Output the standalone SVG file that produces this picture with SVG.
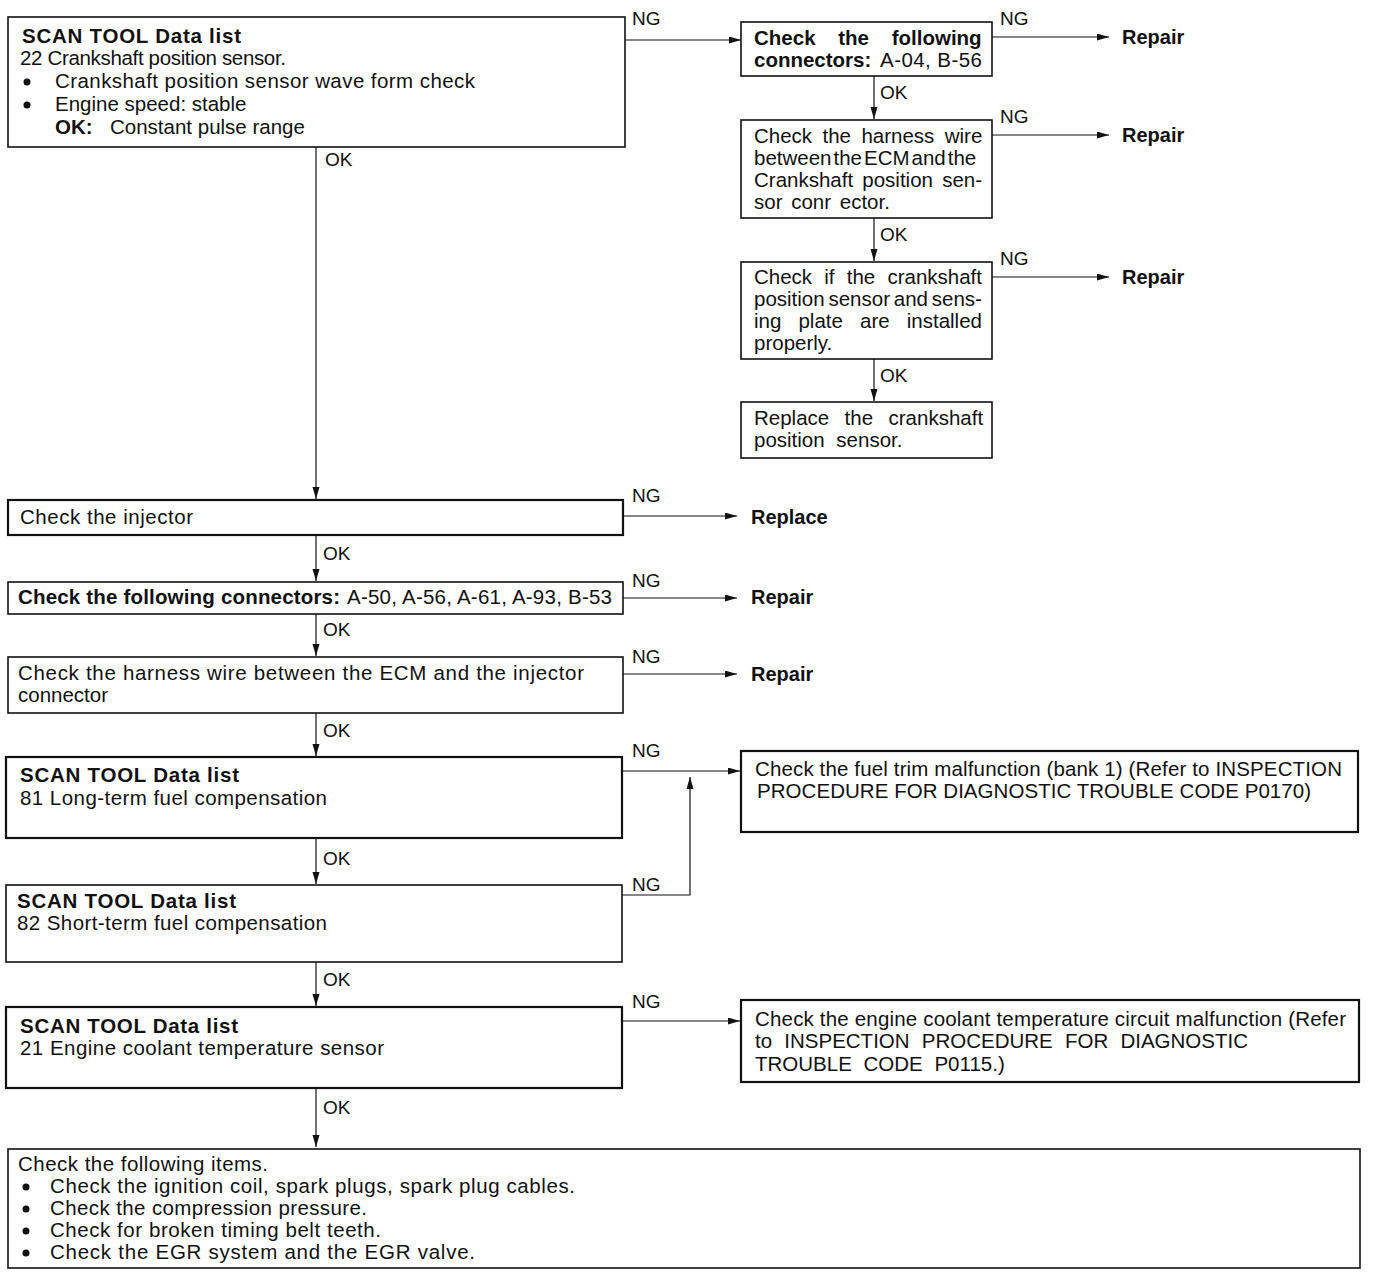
<svg xmlns="http://www.w3.org/2000/svg" width="1376" height="1278" viewBox="0 0 1376 1278">
<style>
text{font-family:"Liberation Sans",Arial,Helvetica,sans-serif;font-size:20.5px;fill:#111}
.b{font-weight:bold}
.box{fill:#fff;stroke:#111;stroke-width:1.6}
.thick{stroke-width:2.2}
.ln{fill:none;stroke:#111;stroke-width:1.2}
.lbl{font-size:19px}
.r{font-size:20px;font-weight:bold}
</style>
<defs>
<marker id="ah" markerUnits="userSpaceOnUse" markerWidth="14" markerHeight="8" refX="12" refY="3.5" orient="auto">
<path d="M0,0 L12,3.5 L0,7 z" fill="#111"/>
</marker>
</defs>
<rect width="1376" height="1278" fill="#fff"/>

<g id="connectors">
<polyline class="ln" points="625,40 741,40" marker-end="url(#ah)"/>
<polyline class="ln" points="316,147 316,499" marker-end="url(#ah)"/>
<polyline class="ln" points="992,37 1109,37" marker-end="url(#ah)"/>
<polyline class="ln" points="874,76 874,119" marker-end="url(#ah)"/>
<polyline class="ln" points="992,135 1109,135" marker-end="url(#ah)"/>
<polyline class="ln" points="874,218 874,261" marker-end="url(#ah)"/>
<polyline class="ln" points="992,277 1109,277" marker-end="url(#ah)"/>
<polyline class="ln" points="874,359 874,401" marker-end="url(#ah)"/>
<polyline class="ln" points="623,516 737,516" marker-end="url(#ah)"/>
<polyline class="ln" points="316,535 316,581" marker-end="url(#ah)"/>
<polyline class="ln" points="623,598 737,598" marker-end="url(#ah)"/>
<polyline class="ln" points="316,614 316,656" marker-end="url(#ah)"/>
<polyline class="ln" points="623,674 737,674" marker-end="url(#ah)"/>
<polyline class="ln" points="316,713 316,756" marker-end="url(#ah)"/>
<polyline class="ln" points="622,771 740,771" marker-end="url(#ah)"/>
<polyline class="ln" points="316,838 316,884" marker-end="url(#ah)"/>
<polyline class="ln" points="622,895 690,895 690,777" marker-end="url(#ah)"/>
<polyline class="ln" points="316,962 316,1006" marker-end="url(#ah)"/>
<polyline class="ln" points="622,1021 740,1021" marker-end="url(#ah)"/>
<polyline class="ln" points="316,1088 316,1147" marker-end="url(#ah)"/>
<text class="lbl" x="632" y="25">NG</text>
<text class="lbl" x="325" y="166">OK</text>
<text class="lbl" x="1000" y="25">NG</text>
<text class="r" x="1122" y="44">Repair</text>
<text class="lbl" x="880" y="99">OK</text>
<text class="lbl" x="1000" y="123">NG</text>
<text class="r" x="1122" y="142">Repair</text>
<text class="lbl" x="880" y="241">OK</text>
<text class="lbl" x="1000" y="265">NG</text>
<text class="r" x="1122" y="284">Repair</text>
<text class="lbl" x="880" y="382">OK</text>
<text class="lbl" x="632" y="502">NG</text>
<text class="r" x="751" y="524">Replace</text>
<text class="lbl" x="323" y="560">OK</text>
<text class="lbl" x="632" y="587">NG</text>
<text class="r" x="751" y="604">Repair</text>
<text class="lbl" x="323" y="636">OK</text>
<text class="lbl" x="632" y="663">NG</text>
<text class="r" x="751" y="681">Repair</text>
<text class="lbl" x="323" y="737">OK</text>
<text class="lbl" x="632" y="757">NG</text>
<text class="lbl" x="323" y="865">OK</text>
<text class="lbl" x="632" y="891">NG</text>
<text class="lbl" x="323" y="986">OK</text>
<text class="lbl" x="632" y="1008">NG</text>
<text class="lbl" x="323" y="1114">OK</text>
</g>

<g id="n1">
<rect class="box" x="8" y="17" width="617" height="130"/>
<text class="b" x="22" y="43" textLength="219">SCAN TOOL Data list</text>
<text x="20" y="65" textLength="266">22 Crankshaft position sensor.</text>
<circle cx="27" cy="82" r="3.5" fill="#111"/>
<text x="55" y="88" textLength="420">Crankshaft position sensor wave form check</text>
<circle cx="27" cy="105" r="3.5" fill="#111"/>
<text x="55" y="111">Engine speed: stable</text>
<text class="b" x="55" y="134">OK:</text>
<text x="110" y="134">Constant pulse range</text>
</g>

<g id="n2">
<rect class="box" x="741" y="22" width="251" height="54"/>
<text class="b" x="754" y="45" word-spacing="17">Check the following</text>
<text class="b" x="754" y="67">connectors:</text>
<text x="880" y="67" textLength="102">A-04, B-56</text>
</g>

<g id="n3">
<rect class="box" x="741" y="120" width="251" height="98"/>
<text x="754" y="143" word-spacing="4.7">Check the harness wire</text>
<text x="754" y="165" word-spacing="-3.7">between the ECM and the</text>
<text x="754" y="187" word-spacing="3.5">Crankshaft position sen-</text>
<text x="754" y="209" word-spacing="3">sor conr ector.</text>
</g>

<g id="n4">
<rect class="box" x="741" y="262" width="251" height="97"/>
<text x="754" y="284" word-spacing="6.5">Check if the crankshaft</text>
<text x="754" y="306" word-spacing="-1.9">position sensor and sens-</text>
<text x="754" y="328" word-spacing="11.4">ing plate are installed</text>
<text x="754" y="350">properly.</text>
</g>

<g id="n5">
<rect class="box" x="741" y="402" width="251" height="56"/>
<text x="754" y="425" word-spacing="9.7">Replace the crankshaft</text>
<text x="754" y="447" word-spacing="6">position sensor.</text>
</g>

<g id="n6">
<rect class="box thick" x="8" y="500" width="615" height="35"/>
<text x="20" y="524" textLength="173">Check the injector</text>
</g>

<g id="n7">
<rect class="box" x="8" y="582" width="615" height="32"/>
<text class="b" x="18" y="604" textLength="322">Check the following connectors:</text>
<text x="347" y="604" textLength="265">A-50, A-56, A-61, A-93, B-53</text>
</g>

<g id="n8">
<rect class="box" x="8" y="657" width="615" height="56"/>
<text x="18" y="680" textLength="566">Check the harness wire between the ECM and the injector</text>
<text x="18" y="702">connector</text>
</g>

<g id="n9">
<rect class="box thick" x="6" y="757" width="616" height="81"/>
<text class="b" x="20" y="782" textLength="219">SCAN TOOL Data list</text>
<text x="20" y="805" textLength="307">81 Long-term fuel compensation</text>
</g>

<g id="n10">
<rect class="box thick" x="741" y="751" width="617" height="81"/>
<text x="755" y="776" textLength="587">Check the fuel trim malfunction (bank 1) (Refer to INSPECTION</text>
<text x="757" y="798" textLength="554">PROCEDURE FOR DIAGNOSTIC TROUBLE CODE P0170)</text>
</g>

<g id="n11">
<rect class="box" x="6" y="885" width="616" height="77"/>
<text class="b" x="17" y="908" textLength="219">SCAN TOOL Data list</text>
<text x="17" y="930" textLength="310">82 Short-term fuel compensation</text>
</g>

<g id="n12">
<rect class="box thick" x="6" y="1007" width="616" height="81"/>
<text class="b" x="20" y="1033" textLength="218">SCAN TOOL Data list</text>
<text x="20" y="1055" textLength="364">21 Engine coolant temperature sensor</text>
</g>

<g id="n13">
<rect class="box thick" x="741" y="1000" width="618" height="82"/>
<text x="755" y="1026" textLength="591">Check the engine coolant temperature circuit malfunction (Refer</text>
<text x="755" y="1048" word-spacing="6.5">to INSPECTION PROCEDURE FOR DIAGNOSTIC</text>
<text x="755" y="1071" word-spacing="6">TROUBLE CODE P0115.)</text>
</g>

<g id="n14">
<rect class="box" x="8" y="1149" width="1352" height="119"/>
<text x="18" y="1171" textLength="250">Check the following items.</text>
<circle cx="26" cy="1187" r="3.5" fill="#111"/>
<text x="50" y="1193" textLength="525">Check the ignition coil, spark plugs, spark plug cables.</text>
<circle cx="26" cy="1209" r="3.5" fill="#111"/>
<text x="50" y="1215" textLength="317">Check the compression pressure.</text>
<circle cx="26" cy="1231" r="3.5" fill="#111"/>
<text x="50" y="1237" textLength="331">Check for broken timing belt teeth.</text>
<circle cx="26" cy="1253" r="3.5" fill="#111"/>
<text x="50" y="1259" textLength="425">Check the EGR system and the EGR valve.</text>
</g>
</svg>
